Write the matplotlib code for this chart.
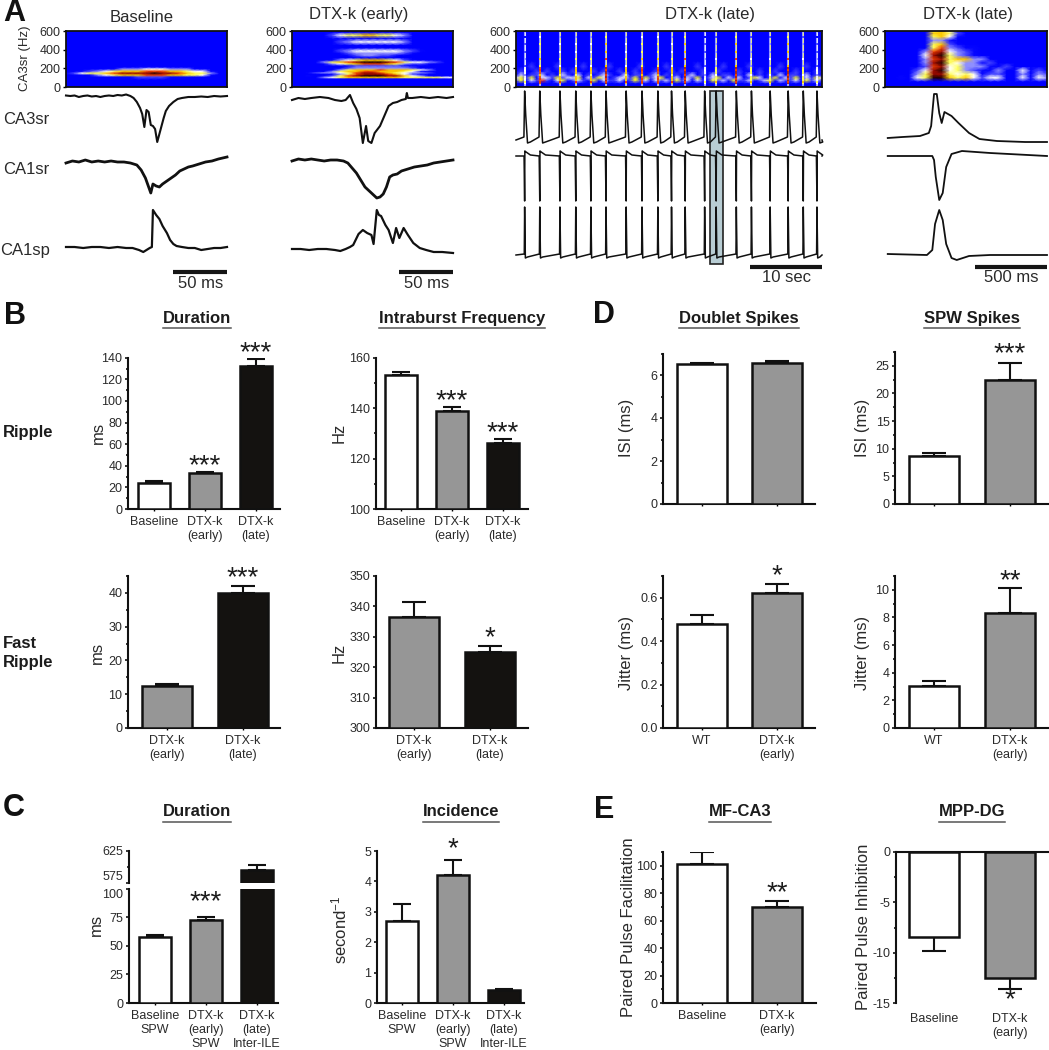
#!/usr/bin/env python3
import numpy as np
import matplotlib
matplotlib.use('Agg')
import matplotlib.pyplot as plt
from matplotlib.colors import LinearSegmentedColormap
from matplotlib.lines import Line2D
from matplotlib.ticker import MultipleLocator, FixedLocator

plt.rcParams['font.family'] = ['Liberation Sans', 'DejaVu Sans']
plt.rcParams['axes.unicode_minus'] = False
plt.rcParams['mathtext.fontset'] = 'custom'
plt.rcParams['mathtext.rm'] = 'Liberation Sans'
plt.rcParams['mathtext.default'] = 'rm'

W, H = 1049, 1050
DARK = '#141210'
GRAY = '#969696'
TXT = '#2a2a2a'

# ---------- panel A: spectrograms, digits are colour levels 0-9, low freq first
spec_cols = np.arange(21) * 0.05

base_freqs = [0, 80, 110, 130, 150, 170, 195, 215, 240, 600]
base_rows = ['000000000000000000000',
             '000000000000000000000',
             '000000011222211100000',
             '000134566677766554100',
             '024556788889887655300',
             '001234566677766544100',
             '000001133344433311000',
             '000000000111000000000',
             '000000000000000000000',
             '000000000000000000000']

early_freqs = [0, 70, 90, 104, 122, 140, 154, 170, 185, 205, 230, 250, 269, 290,
               315, 341, 365, 388, 420, 450, 485, 520, 556, 590, 600]
early_rows = ['000000000000000000000',
              '000000000000000000000',
              '000000000000000000000',
              '000034566666665555544',
              '001012578999886431000',
              '000001357888764210000',
              '001233457887654332000',
              '000003566776665410000',
              '000000356667666543000',
              '000000023333333200000',
              '000000012222221000000',
              '000013456777653221000',
              '000035678999875443200',
              '000001345666542100000',
              '000000000000000000000',
              '000000012332210000000',
              '000000123333332100000',
              '000000234444443210000',
              '000000000111000000000',
              '000000000000000000000',
              '000000234444443000000',
              '000000000000000000000',
              '000002455665543000000',
              '000000000000000000000',
              '000000000000000000000']

last_freqs = [0, 60, 100, 140, 180, 220, 260, 300, 340, 380, 420, 460, 500, 540, 580, 600]
last_rows = ['000000000000000000000',
             '000000000000000000000',
             '001045996564244004143',
             '000035885454122003032',
             '000024894532113004120',
             '000002784533311200000',
             '000003895433120000000',
             '000003785663300000000',
             '000004895321000000000',
             '000003784321000000000',
             '000000573211000000000',
             '000000562100000000000',
             '000000331000000000000',
             '000000564100000000000',
             '000000665200000000000',
             '000000564000000000000']

# late column, seconds
spike_times = [1.2, 3.3, 6.1, 8.3, 10.4, 12.5, 15.3, 17.5, 19.7, 21.6, 23.5,
               26.2, 27.8, 30.6, 32.7, 35.3, 37.8, 39.9, 41.8]
spike_heat = [4, 7, 6, 6, 6, 8, 6, 7, 7, 6, 8, 4, 5, 8, 5, 5, 8, 5, 4]
spot_freqs = [50, 90, 130, 180, 230, 300, 380, 460, 540]
spot_levels = [7, 6, 5, 6, 4, 5, 4, 4, 3]
band_freqs = [0, 40, 70, 100, 130, 170, 220, 280, 600]
band_rows = ['0' * 60,
             '0' * 60,
             '130214102301210302112013120212031202103120311201230211203120',
             '231302213122302132012213031230120213012302120132013021302132',
             '020112010210201012100201101201010120102011010201010201102010',
             '010010100101000101001001000100101000100100010001001000100010',
             '000100001000010000100000100001000001000010000100000100001000',
             '0' * 60,
             '0' * 60]

# ---------- panel A: traces, time in ms, amplitude in a.u.
base_ca3_t = [0, 4, 8, 12, 16, 20, 24, 28, 32, 36, 40, 44, 48, 52, 56, 60, 63, 66, 69, 71, 73, 75, 77, 79,
              81, 83, 85, 87, 89, 91, 93, 96, 100, 104, 108, 114, 120, 126, 132, 138, 144, 150]
base_ca3_a = [.5, 0, .5, -1, 0, .5, -.5, 0, -1, 0, .5, 0, 1, .5, 1.5, 0, -2, -6, -12, -18, -31, -14, -16, -29,
              -30, -33, -46, -38, -30, -22, -15, -10, -6, -3, -2, -1, -1, -.5, -1, 0, -.5, 0]
base_ca1r_t = [0, 6, 12, 18, 24, 30, 36, 42, 48, 54, 60, 66, 70, 74, 77, 79, 81, 84, 87, 90, 94, 98, 102,
               106, 110, 114, 118, 124, 130, 136, 142, 150]
base_ca1r_a = [-1, 1, 0, 2, 0, 1, 0, 1, 0, 0, -1, -3, -8, -16, -25, -31, -22, -24, -25, -22, -19, -16, -13,
               -9, -7, -5, -4, -2, 0, 1, 3, 5]
base_ca1p_t = [0, 8, 16, 24, 32, 40, 48, 56, 62, 68, 72, 75, 78, 80, 81, 84, 87, 90, 94, 97, 100, 103, 108,
               114, 120, 126, 132, 138, 144, 150]
base_ca1p_a = [0, 0, -1, 0, 0, -1, 0, -1, -1, -3, -5, -3, -1, 0, 37, 32, 28, 21, 14, 7, 3, 1, 0,
               -1, -1, -3, -2, -1, -1, 0]

early_ca3_t = [0, 6, 12, 18, 26, 34, 40, 46, 50, 54, 57, 60, 63, 66, 69, 71, 74, 77, 82, 86, 90, 94, 98,
               102, 106, 107, 108, 112, 120, 128, 136, 144, 150]
early_ca3_a = [-2, 0, -1, 0, 1, 0, -2, -3, -2, 3, -5, -11, -20, -45, -28, -43, -45, -35, -28, -18, -8, -5, -4,
               -2, -1, 5, 0, 0, 1, 0, 1, 0, 1]
early_ca1r_t = [0, 6, 12, 18, 24, 30, 36, 42, 48, 52, 56, 60, 64, 68, 72, 76, 79, 82, 85, 88, 91, 94, 98,
                102, 108, 114, 120, 126, 132, 138, 144, 150]
early_ca1r_a = [-1, 1, 0, 1, 0, -1, 0, 0, -1, -3, -8, -13, -20, -27, -31, -35, -38, -37, -34, -27, -17, -15, -14,
                -11, -9, -7, -6, -5, -3, -2, -1, 0]
early_ca1p_t = [0, 8, 16, 24, 32, 40, 45, 50, 54, 57, 62, 66, 70, 74, 76, 79, 81, 83, 87, 90, 94, 97, 100,
                104, 108, 113, 119, 125, 132, 140, 150]
early_ca1p_a = [0, 0, -1, 0, 0, -1, -2, 0, 2, 4, 15, 19, 16, 14, 5, 39, 34, 33, 24, 19, 6, 21, 11,
                21, 14, 6, 1, -1, -3, -3, -4]

last_ca3_t = [19, 121, 242, 303, 319, 339, 358, 375, 392, 411, 460, 508, 581, 653, 774, 968, 1120]
last_ca3_a = [0, 1, 2, 5, 12, 44, 44, 25, 15, 26, 22, 15, 5, -1, -3, -4, -4]
last_ca1r_t = [19, 327, 339, 351, 375, 399, 423, 460, 532, 726, 1120]
last_ca1r_a = [0, 0, -4, -21, -44, -37, -11, 2, 5, 3, 0]
last_ca1p_t = [19, 290, 327, 346, 375, 399, 423, 460, 496, 581, 726, 1120]
last_ca1p_a = [0, -1, 4, 30, 44, 34, 10, -4, -6, -2, -1, -1]

# late column spike shapes, offsets in s from each spike
late_ca3_off = [-0.1, 0.0, 0.15, 0.4, 0.8]
late_ca3_amp = [3, 49, 25, -3, -2]
late_ca1r_off = [-0.08, 0.0, 0.03, 0.2, 0.8]
late_ca1r_amp = [0, -45, 5, 4, 1]
late_ca1p_off = [-0.05, 0.0, 0.1, 0.4]
late_ca1p_amp = [1, 48, -3, -2]

# ---------- panel B
dur_vals = [24, 33, 132]
dur_errs = [2, 1, 7]
freq_vals = [153, 139, 126]
freq_errs = [1.5, 1.3, 1.7]
fast_dur_vals = [12.5, 40]
fast_dur_errs = [0.4, 1.9]
fast_freq_vals = [336.5, 325]
fast_freq_errs = [5, 2]
labels_three = ['Baseline', 'DTX-k\n(early)', 'DTX-k\n(late)']
labels_late = ['DTX-k\n(early)', 'DTX-k\n(late)']

# ---------- panel C
c_dur_vals = [57.5, 73, 596]
c_dur_errs = [2, 2, 6.5]
inc_vals = [2.7, 4.2, 0.42]
inc_errs = [0.55, 0.5, 0.03]
labels_c = ['Baseline\nSPW', 'DTX-k\n(early)\nSPW', 'DTX-k\n(late)\nInter-ILE']

# ---------- panel D
doublet_vals = [6.5, 6.57]
doublet_errs = [0.06, 0.06]
spw_vals = [8.6, 22.4]
spw_errs = [0.6, 3.1]
jit1_vals = [0.48, 0.62]
jit1_errs = [0.04, 0.045]
jit2_vals = [3.05, 8.3]
jit2_errs = [0.37, 1.85]
labels_wt = ['WT', 'DTX-k\n(early)']

# ---------- panel E
mf_vals = [101, 70]
mf_errs = [9, 4]
mpp_vals = [-8.4, -12.5]
mpp_errs = [1.4, 1.1]
labels_base = ['Baseline', 'DTX-k\n(early)']

colors3 = ['white', GRAY, DARK]
colors2 = ['white', GRAY]
colors_late = [GRAY, DARK]

spec_cmap = LinearSegmentedColormap.from_list('spec', [(0, '#0000ff'), (0.1, '#0000ff'), (0.33, '#8c8cff'),
                                                       (0.44, '#ffffff'), (0.62, '#ffff00'), (0.82, '#e81000'),
                                                       (1, '#200000')])

fig = plt.figure(figsize=(W / 100, H / 100), dpi=100, facecolor='white')


def ax_px(x0, ytop, x1, ybot):
    return fig.add_axes([x0 / W, 1 - ybot / H, (x1 - x0) / W, (ybot - ytop) / H])


def ftext(x, y, s, **kw):
    kw.setdefault('ha', 'center')
    kw.setdefault('va', 'center')
    kw.setdefault('color', TXT)
    return fig.text(x / W, 1 - y / H, s, **kw)


def title_line(x, y, s):
    t = ftext(x, y, s, fontsize=12, fontweight='bold', color='#1c1c1c')
    bb = t.get_window_extent(fig.canvas.get_renderer())
    fig.add_artist(Line2D([bb.x0 / W, bb.x1 / W], [1 - (y + 10) / H] * 2, color='#555555', lw=1.1))


def spec_axes(x0, x1):
    ax = ax_px(x0, 31, x1, 87)
    ax.set_ylim(0, 600)
    ax.set_yticks([0, 200, 400, 600])
    ax.set_xticks([])
    ax.set_facecolor('#0000ff')
    ax.tick_params(axis='y', length=2, width=1, pad=2, labelsize=9, labelcolor=TXT)
    for s in ax.spines.values():
        s.set_linewidth(1.3)
        s.set_color('#101010')
    return ax


def spec_panel(x0, x1, freqs, rows):
    ax = spec_axes(x0, x1)
    z = np.array([[int(c) for c in r] for r in rows])
    ax.pcolormesh(spec_cols, freqs, z, shading='gouraud', cmap=spec_cmap, vmin=0, vmax=9)
    ax.set_xlim(0, 1)
    return ax


def trace_axes(x0, x1, tmax):
    ax = ax_px(x0, 88, x1, 290)
    ax.set_xlim(0, tmax)
    ax.set_ylim(290, 88)
    ax.axis('off')
    ax.patch.set_alpha(0)
    return ax


def draw_trace(ax, t, a, level, lw=1.3):
    ax.plot(t, level - np.array(a), color='#111111', lw=lw, solid_joinstyle='round', clip_on=False)


def scale_bar(ax, t0, t1, y, s, ytext):
    ax.plot([t0, t1], [y, y], color='#151515', lw=3, solid_capstyle='butt', clip_on=False)
    ax.text((t0 + t1) / 2, ytext, s, ha='center', va='center', fontsize=12, color=TXT)


def late_trace(off, amp):
    t = [0.0]
    a = [0.0]
    for s in spike_times:
        for o, v in zip(off, amp):
            t.append(s + o)
            a.append(v)
    t.append(42.5)
    a.append(0.0)
    return t, a


def bar_panel(box, ylim, centers, width, labels, vals, errs, colors, major, minor=None,
              ylabel=None, ylabel_xy=None, stars=None, star_off=8, cap=18, tick_labels=True,
              label_top=False, base=None):
    x0, ytop, x1, ybot = box
    ax = ax_px(*box)
    step = centers[1] - centers[0]
    xs = np.arange(len(vals))
    ax.set_xlim((x0 - centers[0]) / step, (x1 - centers[0]) / step)
    ax.set_ylim(*ylim)
    w = (width - 2.5) / step
    if base is None:
        base = 0 if label_top else ylim[0]
    vals = np.array(vals, dtype=float)
    errs = np.array(errs, dtype=float)
    low = errs if label_top else np.zeros_like(errs)
    high = np.zeros_like(errs) if label_top else errs
    ax.errorbar(xs, vals, yerr=[low, high], fmt='none', ecolor='#111111', elinewidth=1.5,
                capsize=cap / 2.78, capthick=1.5, zorder=2)
    ax.bar(xs, vals - base, bottom=base, width=w, color=colors, edgecolor='#111111', linewidth=1.8, zorder=3)
    for s in ['top', 'right', 'bottom', 'left']:
        ax.spines[s].set_visible(False)
    ax.spines['left'].set_visible(True)
    ax.spines['left'].set_linewidth(1.5)
    edge = 'top' if label_top else 'bottom'
    ax.spines[edge].set_visible(True)
    ax.spines[edge].set_linewidth(1.5)
    ax.spines['left'].set_color('#111111')
    ax.spines[edge].set_color('#111111')
    ax.yaxis.set_major_locator(MultipleLocator(major))
    if minor:
        ax.yaxis.set_minor_locator(MultipleLocator(minor))
    ax.tick_params(axis='y', which='major', length=2.5, width=1.1, pad=1.5, labelsize=9, labelcolor=TXT)
    ax.tick_params(axis='y', which='minor', length=1.5, width=1.1)
    ax.set_xticks(xs)
    if tick_labels:
        ax.set_xticklabels(labels, fontsize=9, color=TXT, linespacing=1.2)
    else:
        ax.set_xticklabels([])
    ax.tick_params(axis='x', length=0 if label_top else 1.5, width=1, pad=7 if label_top else 3.5)
    if ylabel:
        ax.set_ylabel(ylabel, fontsize=12, color=TXT)
        ax.yaxis.set_label_coords((ylabel_xy[0] + 8 - x0) / (x1 - x0), (ybot - ylabel_xy[1]) / (ybot - ytop))
    if stars:
        for i, s in enumerate(stars):
            if not s:
                continue
            tip = vals[i] - errs[i] if label_top else vals[i] + errs[i]
            ax.annotate(s, (i, tip), xytext=(0, (star_off - 9) * 0.72), textcoords='offset points',
                        ha='center', va='baseline', fontsize=20, color='#1c1c1c', annotation_clip=False, zorder=5)
    return ax


# ---------- draw A
spec_panel(66, 227, base_freqs, base_rows)
spec_panel(292, 453, early_freqs, early_rows)
spec_panel(885, 1047, last_freqs, last_rows)

ax_late = spec_axes(516, 822)
ax_late.set_xlim(0, 42.5)
band = np.array([[int(c) for c in r] for r in band_rows])
ax_late.pcolormesh(np.arange(60) * 42.5 / 59, band_freqs, band, shading='gouraud', cmap=spec_cmap, vmin=0, vmax=5)
for s, h in zip(spike_times, spike_heat):
    ax_late.vlines(s, 15, 590, color='#9a9dff', lw=1.5)
    ax_late.vlines(s, 30, 590, color=spec_cmap(min(h, 5) / 9), lw=0.5)
    ax_late.vlines(s, 30, 220, color=spec_cmap(min(h, 8) / 9), lw=1.2)
    ax_late.scatter([s] * len(spot_freqs), spot_freqs, s=2, marker='s', linewidths=0,
                    color=[spec_cmap(min(max(v + h - 6, 0), 7) / 9) for v in spot_levels], zorder=3)

ftext(25, 58, 'CA3sr (Hz)', rotation=90, fontsize=9.5)
ftext(142, 17, 'Baseline', fontsize=12)
ftext(359, 14, 'DTX-k (early)', fontsize=12)
ftext(710, 14, 'DTX-k (late)', fontsize=12)
ftext(968, 14, 'DTX-k (late)', fontsize=12)
ftext(3, 119, 'CA3sr', fontsize=12, ha='left')
ftext(3, 169, 'CA1sr', fontsize=12, ha='left')
ftext(0, 250, 'CA1sp', fontsize=12, ha='left')

ax = trace_axes(66, 227, 150)
draw_trace(ax, base_ca3_t, base_ca3_a, 96, lw=1.5)
draw_trace(ax, base_ca1r_t, base_ca1r_a, 162, lw=2)
draw_trace(ax, base_ca1p_t, base_ca1p_a, 247, lw=1.6)
scale_bar(ax, 100, 150, 272, '50 ms', 283)

ax = trace_axes(292, 453, 150)
draw_trace(ax, early_ca3_t, early_ca3_a, 98, lw=1.5)
draw_trace(ax, early_ca1r_t, early_ca1r_a, 160, lw=2)
draw_trace(ax, early_ca1p_t, early_ca1p_a, 249, lw=1.6)
scale_bar(ax, 100, 150, 272, '50 ms', 283)

ax = trace_axes(516, 822, 42.5)
ax.axvspan(26.9, 28.7, ymin=(290 - 264) / 202, ymax=(290 - 91) / 202, facecolor='#b8cdd4',
           edgecolor='#222222', lw=1.2, zorder=0)
for off, amp, level in [(late_ca3_off, late_ca3_amp, 140), (late_ca1r_off, late_ca1r_amp, 156),
                        (late_ca1p_off, late_ca1p_amp, 255)]:
    t, a = late_trace(off, amp)
    draw_trace(ax, t, a, level, lw=1.1)
scale_bar(ax, 32.5, 42.5, 267, '10 sec', 278)

ax = trace_axes(885, 1047, 1120)
draw_trace(ax, last_ca3_t, last_ca3_a, 138)
draw_trace(ax, last_ca1r_t, last_ca1r_a, 156)
draw_trace(ax, last_ca1p_t, last_ca1p_a, 254)
scale_bar(ax, 620, 1120, 267, '500 ms', 278)

# ---------- draw B
bar_panel((128, 357.7, 280, 509), (0, 140), [154, 205, 255.5], 34, labels_three, dur_vals, dur_errs, colors3,
          20, 10, 'ms', (98, 433), ['', '***', '***'], 8)
bar_panel((376, 357.7, 528, 509), (100, 160), [401, 452, 502], 34, labels_three, freq_vals, freq_errs, colors3,
          20, 10, 'Hz', (339, 433), ['', '***', '***'], 8)
bar_panel((128, 576, 280, 728), (0, 45), [167, 243], 52, labels_late, fast_dur_vals, fast_dur_errs, colors_late,
          10, 5, 'ms', (97, 653), ['', '***'], 10, cap=25)
bar_panel((376, 576, 528, 728), (300, 350), [414, 490], 52, labels_late, fast_freq_vals, fast_freq_errs, colors_late,
          10, None, 'Hz', (339, 653), ['', '*'], 10, cap=25)

# ---------- draw D
bar_panel((663, 353.5, 815, 504), (0, 7), [702, 777], 52, None, doublet_vals, doublet_errs, colors2,
          2, 1, 'ISI (ms)', (626, 428), cap=25, tick_labels=False)
bar_panel((895, 352, 1048, 504), (0, 27.5), [934, 1010], 52, None, spw_vals, spw_errs, colors2,
          5, 2.5, 'ISI (ms)', (862, 428), ['', '***'], 11, cap=25, tick_labels=False)
bar_panel((663, 576, 815, 728), (0, 0.7), [702, 777], 52, labels_wt, jit1_vals, jit1_errs, colors2,
          0.2, 0.1, 'Jitter (ms)', (626, 653), ['', '*'], 9, cap=25)
bar_panel((895, 576, 1048, 728), (0, 11), [934, 1010], 52, labels_wt, jit2_vals, jit2_errs, colors2,
          2, 1, 'Jitter (ms)', (862, 653), ['', '**'], 9, cap=25)

# ---------- draw C, broken axis
ax = bar_panel((128.6, 888.7, 278, 1003), (0, 100), [155, 206, 256.5], 34, labels_c, c_dur_vals, c_dur_errs, colors3,
               25, None, 'ms', (96, 925), ['', '***', ''], 17)
ax.yaxis.set_major_locator(FixedLocator([0, 25, 50, 75, 100]))
ax.get_yticklabels()[-1].set_va('top')
ax_up = bar_panel((128.6, 850.7, 278, 883.3), (575, 625), [155, 206, 256.5], 34, labels_c, c_dur_vals, c_dur_errs, colors3,
                  25, None, tick_labels=False, base=0)
ax_up.spines['bottom'].set_visible(False)
ax_up.tick_params(axis='x', length=0)
ax_up.yaxis.set_major_locator(FixedLocator([575, 625]))
ax_up.yaxis.set_minor_locator(FixedLocator([600]))
ax_up.get_yticklabels()[0].set_va('bottom')

bar_panel((377, 851, 524, 1003), (0, 5), [402, 453, 504], 34, labels_c, inc_vals, inc_errs, colors3,
          1, None, 'second$^{-1}$', (341, 930), ['', '*', ''], 13)

# ---------- draw E
bar_panel((663, 852, 816, 1003), (0, 110), [702, 777], 52, labels_base, mf_vals, mf_errs, colors2,
          20, 10, 'Paired Pulse Facilitation', (628, 927), ['', '**'], 10, cap=25)
bar_panel((896, 852, 1048, 1003), (-15, 0), [934, 1010], 52, labels_base, mpp_vals, mpp_errs, colors2,
          5, 2.5, 'Paired Pulse Inhibition', (863, 927), ['', '*'], -9, cap=25, label_top=True)

# ---------- titles and panel letters
title_line(197, 318, 'Duration')
title_line(462, 318, 'Intraburst Frequency')
title_line(739, 318, 'Doublet Spikes')
title_line(972, 318, 'SPW Spikes')
title_line(197, 812, 'Duration')
title_line(461, 812, 'Incidence')
title_line(740, 812, 'MF-CA3')
title_line(972, 812, 'MPP-DG')

for x, y, s in [(14, 13, 'A'), (15, 316, 'B'), (14, 808, 'C'), (604, 315, 'D'), (604, 810, 'E')]:
    ftext(x, y, s, fontsize=22, fontweight='bold', color='#111111')

ftext(3, 433, 'Ripple', fontsize=12, fontweight='bold', ha='left', color='#1c1c1c')
ftext(3, 643, 'Fast', fontsize=12, fontweight='bold', ha='left', color='#1c1c1c')
ftext(3, 662, 'Ripple', fontsize=12, fontweight='bold', ha='left', color='#1c1c1c')

fig.savefig('out.png', dpi=100)
